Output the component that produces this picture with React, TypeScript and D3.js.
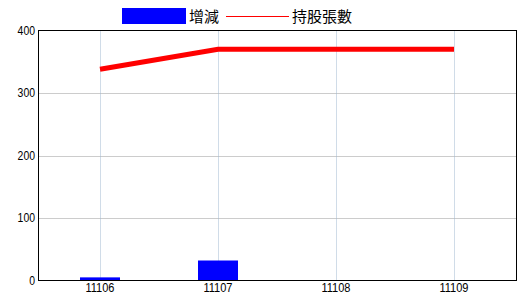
import React from "react";
import * as d3 from "d3";

const categories = ["11106", "11107", "11108", "11109"];
const changeValues = [5, 32, 0, 0];
const shareValues = [338, 370, 370, 370];
const yTicks = [0, 100, 200, 300, 400];
const legendLabels = ["增減", "持股張數"];

export default function App() {
  const W = 520, H = 300;
  const left = 38.5, right = 516.5, top = 30.5, bottom = 280.5;
  const x = d3.scalePoint<string>().domain(categories).range([41, 513]).padding(0.5);
  const y = d3.scaleLinear().domain([0, 400]).range([bottom, top]);
  const line = d3.line<number>().x((_, i) => x(categories[i])!).y((d) => y(d));
  const barW = 40;
  const font = "'Liberation Sans', Arial, sans-serif";
  const cjk = "'Noto Sans CJK TC', 'Noto Sans CJK SC', sans-serif";
  return (
    <svg width={W} height={H} style={{ position: "absolute", left: 0, top: 0, background: "#fff" }}>
      <rect x={0} y={0} width={W} height={H} fill="#fff" />
      {yTicks.filter((t) => t > 0 && t < 400).map((t) => (
        <line key={"h" + t} x1={left} x2={right} y1={Math.round(y(t)) + 0.5} y2={Math.round(y(t)) + 0.5}
          stroke="#999" strokeDasharray="1,1" />
      ))}
      {categories.map((c) => (
        <line key={"v" + c} x1={Math.round(x(c)!) + 0.5} x2={Math.round(x(c)!) + 0.5} y1={top} y2={bottom}
          stroke="#a0b8d0" strokeDasharray="1,1" />
      ))}
      {changeValues.map((v, i) => (
        <rect key={"b" + i} x={x(categories[i])! - barW / 2} y={y(v)} width={barW} height={y(0) - y(v)} fill="#0000ff" />
      ))}
      <path d={line(shareValues)!} fill="none" stroke="#ff0000" strokeWidth={5} />
      <rect x={left} y={top} width={right - left} height={bottom - top} fill="none" stroke="#000" strokeWidth={1} />
      {yTicks.map((t) => (
        <text key={"yt" + t} x={35} y={y(t)} dy="0.36em" textAnchor="end" fontFamily={font} fontSize={12}
          textLength={String(t).length * 5.8} lengthAdjust="spacingAndGlyphs" fill="#000">{t}</text>
      ))}
      {categories.map((c) => (
        <text key={"xt" + c} x={x(c)!} y={292} textAnchor="middle" fontFamily={font} fontSize={12}
          textLength={29} lengthAdjust="spacingAndGlyphs" fill="#000">{c}</text>
      ))}
      <rect x={122} y={8} width={64} height={16} fill="#0000ff" />
      <text x={189} y={22} fontFamily={cjk} fontSize={15} fill="#000">{legendLabels[0]}</text>
      <line x1={226} x2={289} y1={16.5} y2={16.5} stroke="#ff0000" strokeWidth={1} />
      <text x={292} y={22} fontFamily={cjk} fontSize={15} fill="#000">{legendLabels[1]}</text>
    </svg>
  );
}
